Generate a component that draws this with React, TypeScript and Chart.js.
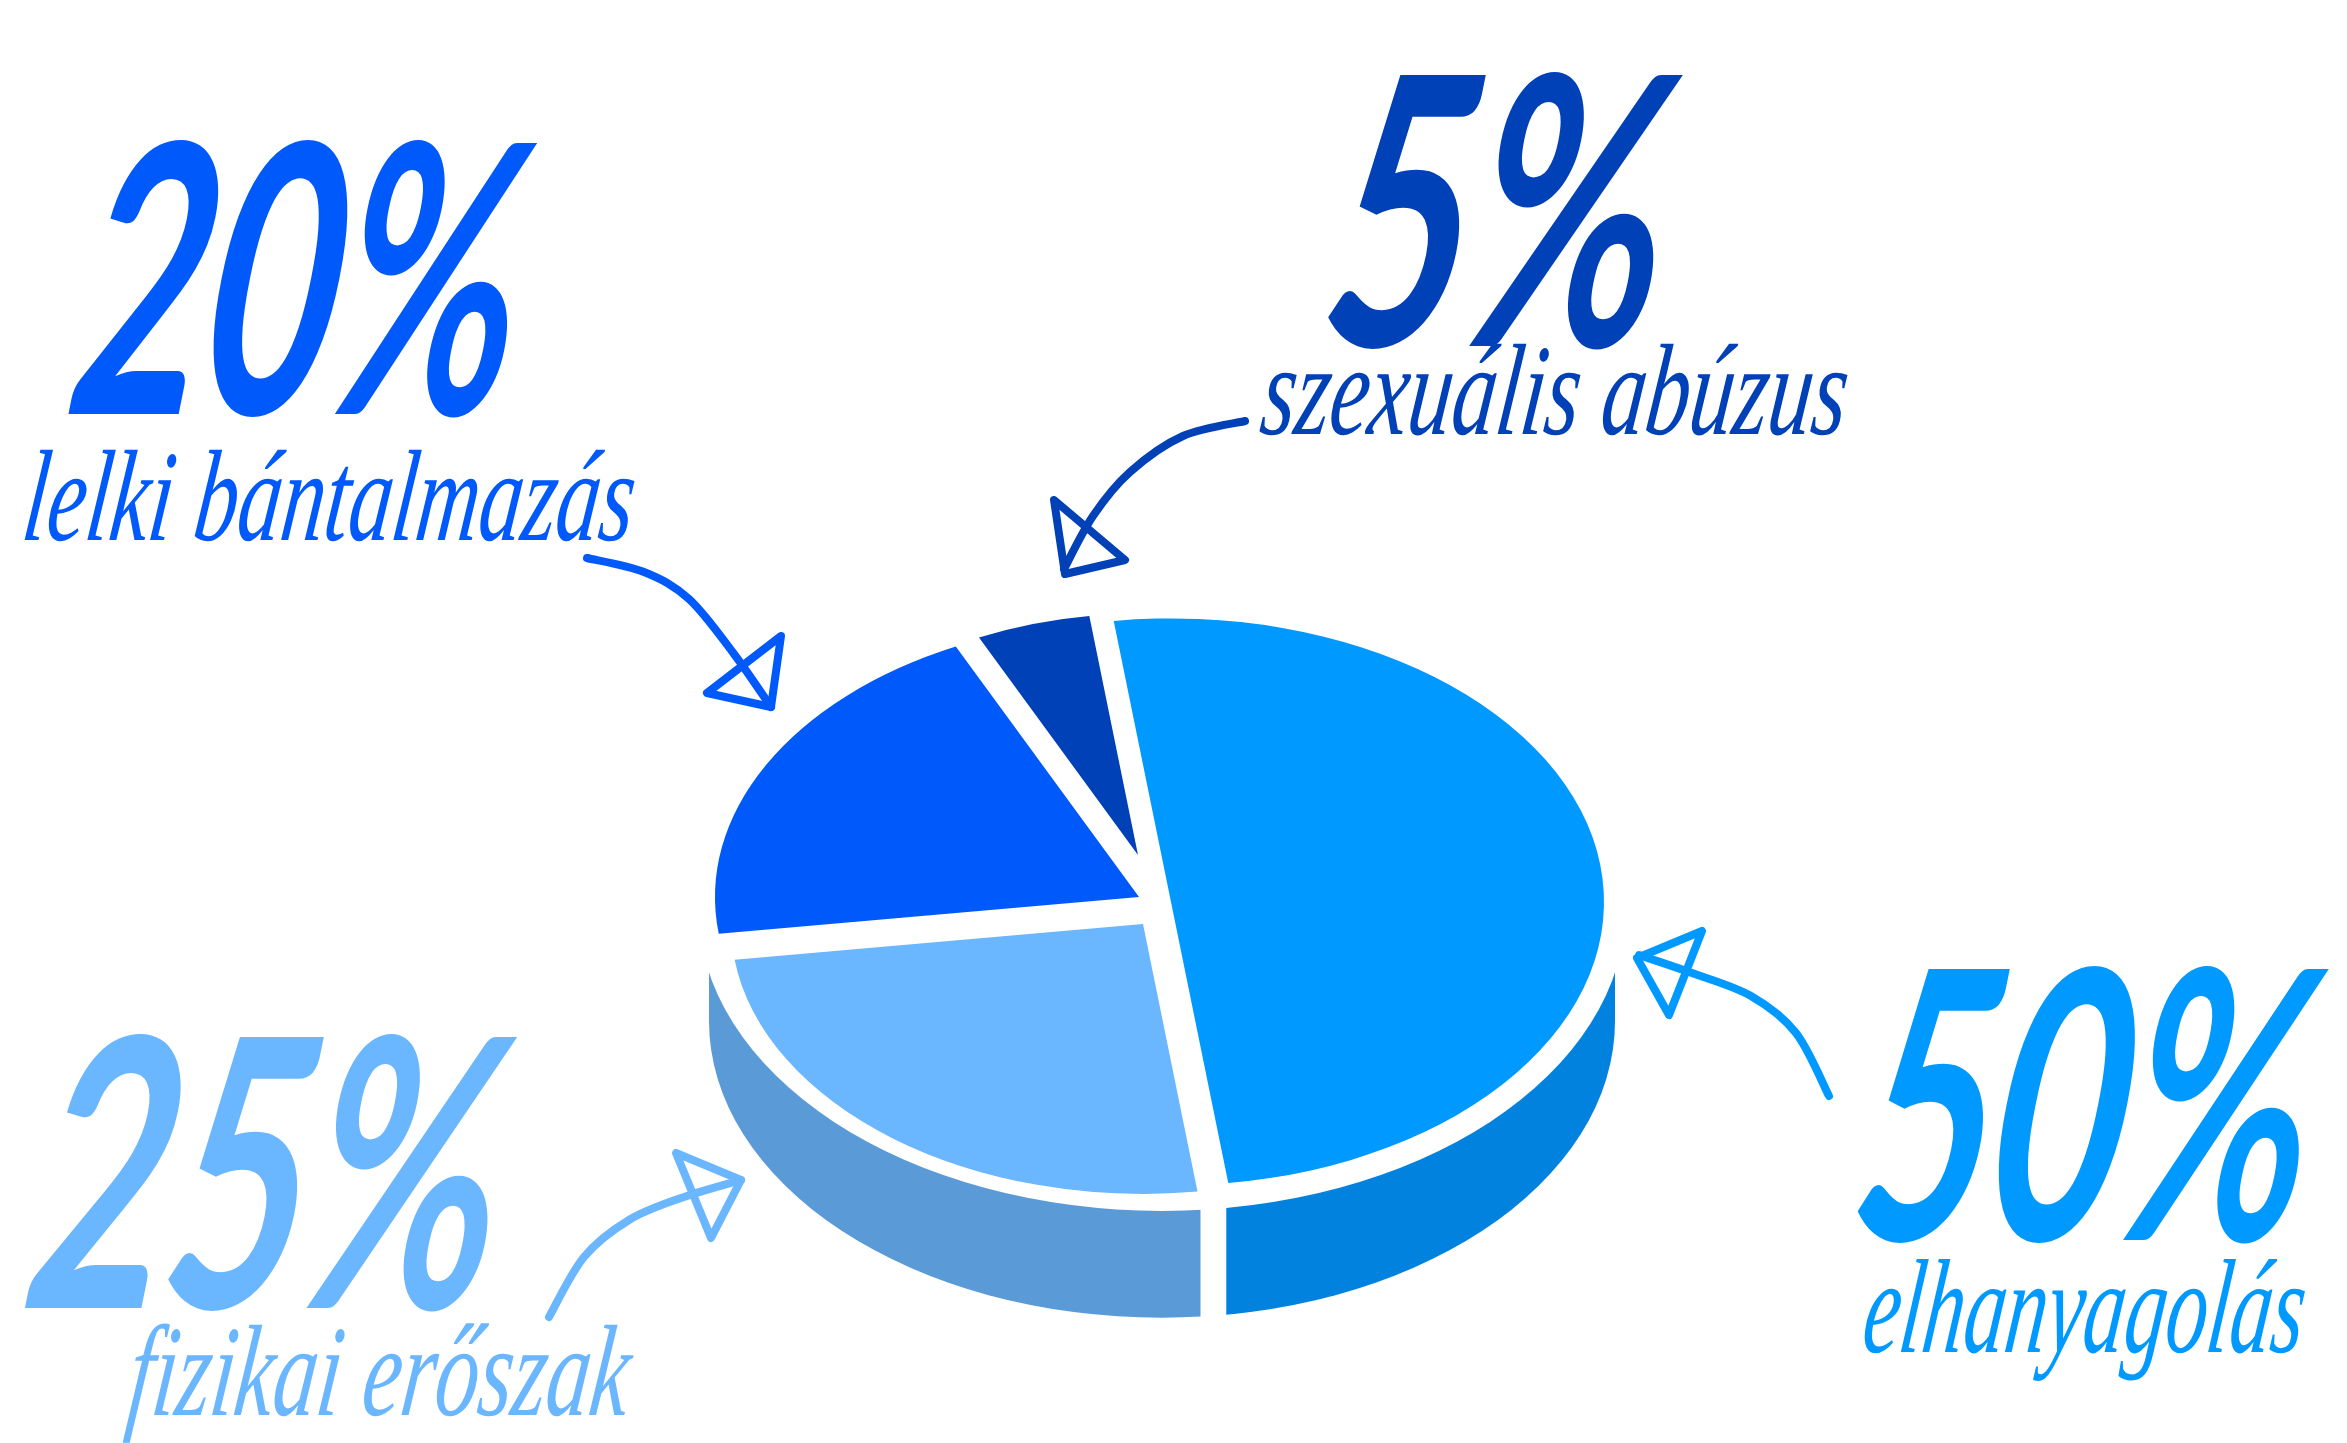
import React, { useEffect, useRef } from "react";
import { Chart, registerables } from "chart.js";

Chart.register(...registerables);

// ---- data ----
const categories = ["elhanyagolás", "fizikai erőszak", "lelki bántalmazás", "szexuális abúzus"];
const values = [50, 25, 20, 5];
const valueLabels = ["50%", "25%", "20%", "5%"];

// ---- styles ----
const sliceColors = ["#0099ff", "#6ab6ff", "#0059fb", "#0041b8"];
const wallColors = ["#0282df", "#5a9ad6", null, null];
const sliceRadius = [433, 412, 424, 368];
const sliceShift = [[3, -3], [-25, 19], [-29, -8], [-30, -50]];
const SQUASH = 0.655;
const CENTER = { x: 1168, y: 905 };
const WALL = { x: 1162, y: 1021, r: 453 };
const MASK = { x: 1162, y: 907, r: 464 };

type Box = { x: number; base: number; w: number; px: number };
const valueBoxes: Box[] = [
  { x: 1842, base: 1240, w: 450, px: 375 },
  { x: 16, base: 1308, w: 465, px: 375 },
  { x: 60, base: 414, w: 440, px: 375 },
  { x: 1312, base: 346, w: 335, px: 375 },
];
const labelBoxes: Box[] = [
  { x: 1860, base: 1352, w: 440, px: 134 },
  { x: 125, base: 1415, w: 500, px: 130 },
  { x: 20, base: 540, w: 610, px: 130 },
  { x: 1258, base: 434, w: 585, px: 130 },
];
const arrows = [
  { c: 0, line: [[1829, 1096], [1796, 1033], [1751, 996], [1692, 973], [1639, 955]], head: [[1637, 958], [1702, 931], [1669, 1015]] },
  { c: 1, line: [[549, 1317], [584, 1257], [629, 1220], [681, 1198], [741, 1180]], head: [[741, 1180], [676, 1153], [711, 1238]] },
  { c: 2, line: [[587, 558], [644, 572], [689, 599], [734, 654], [771, 707]], head: [[771, 707], [781, 636], [707, 693]] },
  { c: 3, line: [[1245, 421], [1183, 436], [1130, 472], [1093, 516], [1064, 569]], head: [[1065, 574], [1054, 500], [1125, 560]] },
];

function fitText(ctx: CanvasRenderingContext2D, t: string, b: Box, font: string, skew: number) {
  ctx.save();
  ctx.font = font.replace("PX", String(b.px));
  const m = ctx.measureText(t).width;
  ctx.translate(b.x, b.base);
  ctx.transform(1, 0, -skew, 1, 0, 0);
  ctx.scale(b.w / m, 1);
  ctx.textBaseline = "alphabetic";
  ctx.fillText(t, 0, 0);
  ctx.restore();
}

function curve(ctx: CanvasRenderingContext2D, p: number[][]) {
  ctx.moveTo(p[0][0], p[0][1]);
  for (let i = 0; i < p.length - 1; i++) {
    const a = p[Math.max(i - 1, 0)];
    const b = p[i];
    const c = p[i + 1];
    const d = p[Math.min(i + 2, p.length - 1)];
    ctx.bezierCurveTo(
      b[0] + (c[0] - a[0]) / 6,
      b[1] + (c[1] - a[1]) / 6,
      c[0] - (d[0] - b[0]) / 6,
      c[1] - (d[1] - b[1]) / 6,
      c[0],
      c[1]
    );
  }
}

const piePlugin = {
  id: "flatPie3d",
  beforeDatasetsDraw(chart: any) {
    const ctx: CanvasRenderingContext2D = chart.ctx;
    const arcs = chart.getDatasetMeta(0).data;
    const cx = (chart.chartArea.left + chart.chartArea.right) / 2;
    const cy = (chart.chartArea.top + chart.chartArea.bottom) / 2;
    arcs.forEach((arc: any, i: number) => {
      arc.outerRadius = sliceRadius[i];
      arc.x = cx + sliceShift[i][0];
      arc.y = cy + sliceShift[i][1] / SQUASH;
    });
    // side walls: swept from the lower ellipse up behind the top face
    const ry = WALL.r * SQUASH;
    const splitRight = arcs[0].x + sliceRadius[0] * Math.cos(arcs[0].endAngle) - 2;
    const splitLeft = arcs[1].x + sliceRadius[1] * Math.cos(arcs[1].startAngle) + 3;
    const wallPart = (x0: number, x1: number, color: string) => {
      ctx.save();
      ctx.beginPath();
      ctx.rect(x0, 0, x1 - x0, chart.height);
      ctx.clip();
      ctx.beginPath();
      ctx.moveTo(WALL.x - WALL.r, MASK.y);
      ctx.lineTo(WALL.x + WALL.r, MASK.y);
      ctx.lineTo(WALL.x + WALL.r, WALL.y);
      ctx.ellipse(WALL.x, WALL.y, WALL.r, ry, 0, 0, Math.PI);
      ctx.closePath();
      ctx.fillStyle = color;
      ctx.fill();
      ctx.restore();
    };
    wallPart(splitRight, WALL.x + WALL.r, wallColors[0] as string);
    wallPart(WALL.x - WALL.r, splitLeft, wallColors[1] as string);
    ctx.beginPath();
    ctx.ellipse(MASK.x, MASK.y, MASK.r, MASK.r * SQUASH, 0, 0, Math.PI * 2);
    ctx.fillStyle = "#ffffff";
    ctx.fill();
    ctx.save();
    ctx.translate(cx, cy);
    ctx.scale(1, SQUASH);
    ctx.translate(-cx, -cy);
  },
  afterDatasetsDraw(chart: any) {
    chart.ctx.restore();
  },
  afterDraw(chart: any) {
    const ctx: CanvasRenderingContext2D = chart.ctx;
    categories.forEach((name, i) => {
      ctx.fillStyle = sliceColors[i];
      fitText(ctx, valueLabels[i], valueBoxes[i], 'bold PXpx Lato, "Noto Sans", sans-serif', 0.2);
      fitText(ctx, name, labelBoxes[i], 'italic PXpx "Liberation Serif", serif', 0.12);
    });
    arrows.forEach((a) => {
      ctx.save();
      ctx.strokeStyle = sliceColors[a.c];
      ctx.lineWidth = 8;
      ctx.lineCap = "round";
      ctx.lineJoin = "round";
      ctx.beginPath();
      curve(ctx, a.line);
      ctx.stroke();
      ctx.beginPath();
      a.head.forEach((p, j) => (j ? ctx.lineTo(p[0], p[1]) : ctx.moveTo(p[0], p[1])));
      ctx.closePath();
      ctx.stroke();
      ctx.restore();
    });
  },
};

export default function App() {
  const ref = useRef<HTMLCanvasElement>(null);
  useEffect(() => {
    const chart = new Chart(ref.current as HTMLCanvasElement, {
      type: "pie",
      data: {
        labels: categories,
        datasets: [{ data: values, backgroundColor: sliceColors, borderWidth: 0, offset: 0 }],
      },
      options: {
        responsive: false,
        animation: false,
        devicePixelRatio: 1,
        rotation: -7.6,
        radius: 433,
        events: [],
        layout: {
          padding: {
            left: 0,
            right: 2347 - 2 * CENTER.x,
            top: 2 * CENTER.y - 1443,
            bottom: 0,
          },
        },
        plugins: { legend: { display: false }, tooltip: { enabled: false } },
      },
      plugins: [piePlugin],
    } as any);
    return () => chart.destroy();
  }, []);
  return (
    <div style={{ position: "fixed", left: 0, top: 0, width: 2347, height: 1443, background: "#ffffff" }}>
      <canvas ref={ref} width={2347} height={1443} style={{ display: "block" }} />
    </div>
  );
}
